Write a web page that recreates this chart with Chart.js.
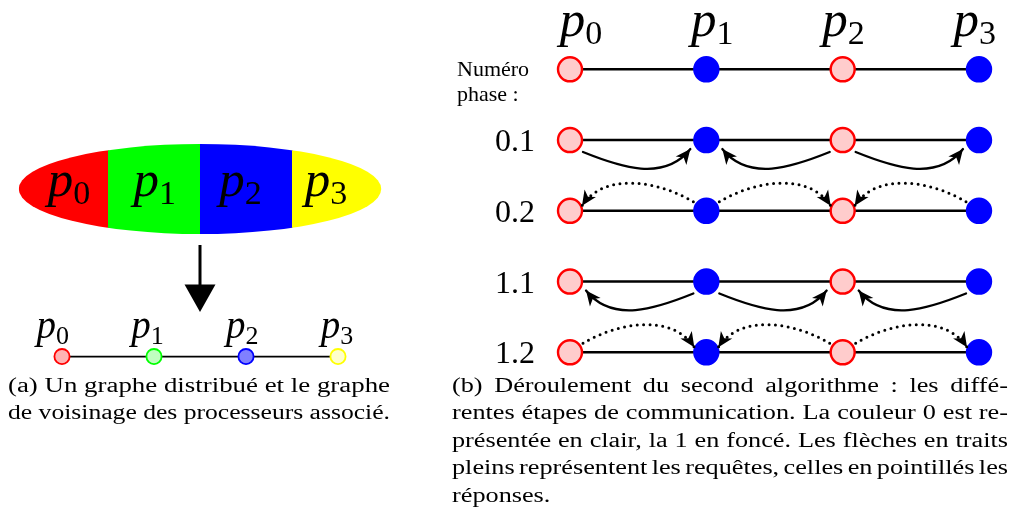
<!DOCTYPE html>
<html lang="fr">
<head>
<meta charset="utf-8">
<title>Graphe distribué et phases de communication</title>
<script src="https://cdn.jsdelivr.net/npm/chart.js@4.4.1/dist/chart.umd.min.js"></script>
<style>
  html, body { margin: 0; padding: 0; background: #fff; }
  #wrap { width: 1014px; height: 525px; }
</style>
</head>
<body>
<div id="wrap"><canvas id="fig" width="1014" height="525"></canvas></div>
<script>
// processeurs p0..p3 (indice affiché en indice)
const processors = ['0', '1', '2', '3'];
// couleur de chaque processeur dans l'algorithme (0 = clair, 1 = foncé)
const colouring = [0, 1, 0, 1];
// numéros de phase, une ligne chacun sous la ligne d'en-tête
const phases = ['0.1', '0.2', '1.1', '1.2'];
// messages envoyés à chaque phase : [émetteur, destinataire]
const phaseMessages = [
  [[0, 1], [2, 1], [2, 3]],
  [[1, 0], [1, 2], [3, 2]],
  [[1, 0], [1, 2], [3, 2]],
  [[0, 1], [2, 1], [2, 3]],
];
// requête = trait plein, réponse = pointillés
const phaseKinds = ['requete', 'reponse', 'requete', 'reponse'];

const captionA = [
  '(a) Un graphe distribué et le graphe',
  'de voisinage des processeurs associé.',
];
const captionB = [
  '(b) Déroulement du second algorithme : les diffé-',
  'rentes étapes de communication. La couleur 0 est re-',
  'présentée en clair, la 1 en foncé. Les flèches en traits',
  'pleins représentent les requêtes, celles en pointillés les',
  'réponses.',
];

// styles
const SERIF = '"Liberation Serif", "Times New Roman", serif';
const zoneColors = ['#ff0000', '#00ff00', '#0000ff', '#ffff00'];
const nodeFillA = ['#ffb3b3', '#bfffbf', '#8080ff', '#ffffcc'];
const lightFill = '#ffcccc';
const lightStroke = '#ff0000';
const darkFill = '#0000ff';

// value v0 at pixel p0, v1 at pixel p1, over a canvas side of `size`
function fit(v0, p0, v1, p1, size) {
  const unit = (p1 - p0) / (v1 - v0);
  return { min: v0 - p0 / unit, max: v0 + (size - p0) / unit };
}

const W = 1014, H = 525;
const rowsB = ['entete', ...phases];

const datasets = [];

// (b) noeuds de chaque ligne
const nodesB = [];
rowsB.forEach((_, r) => processors.forEach((_, k) => nodesB.push({ x: k, y: r })));
datasets.push({
  label: 'noeuds b',
  xAxisID: 'xb', yAxisID: 'yb', order: 0,
  data: nodesB,
  pointRadius: 12,
  pointBorderWidth: 2.4,
  pointBackgroundColor: nodesB.map(p => colouring[p.x] ? darkFill : lightFill),
  pointBorderColor: nodesB.map(p => colouring[p.x] ? darkFill : lightStroke),
  showLine: false,
});
// (b) arêtes de chaque ligne
rowsB.forEach((_, r) => {
  datasets.push({
    label: 'ligne ' + r,
    xAxisID: 'xb', yAxisID: 'yb', order: 2,
    data: [{ x: 0, y: r }, { x: processors.length - 1, y: r }],
    showLine: true, borderColor: '#000', borderWidth: 2.4, pointRadius: 0,
  });
});

// (a) graphe de voisinage
datasets.push({
  label: 'noeuds a',
  xAxisID: 'xa', yAxisID: 'ya', order: 0,
  data: processors.map((_, k) => ({ x: k, y: 1 })),
  pointRadius: 7.6,
  pointBorderWidth: 1.8,
  pointBackgroundColor: nodeFillA,
  pointBorderColor: zoneColors,
  showLine: false,
});
datasets.push({
  label: 'arete a',
  xAxisID: 'xa', yAxisID: 'ya', order: 2,
  data: [{ x: 0, y: 1 }, { x: processors.length - 1, y: 1 }],
  showLine: true, borderColor: '#000', borderWidth: 1.6, pointRadius: 0,
});

function drawP(ctx, cx, base, size, digit) {
  const sub = Math.round(size * 0.66);
  ctx.font = `italic ${size}px ${SERIF}`;
  const wp = ctx.measureText('p').width;
  ctx.font = `${sub}px ${SERIF}`;
  const wd = ctx.measureText(digit).width;
  const x0 = cx - (wp + wd) / 2;
  ctx.font = `italic ${size}px ${SERIF}`;
  ctx.fillText('p', x0, base);
  ctx.font = `${sub}px ${SERIF}`;
  ctx.fillText(digit, x0 + wp, base + size * 0.16);
}

function drawHead(ctx, tip, from, len, half) {
  const dx = tip[0] - from[0], dy = tip[1] - from[1];
  const n = Math.hypot(dx, dy);
  const ux = dx / n, uy = dy / n;
  const bx = tip[0] - ux * len, by = tip[1] - uy * len;
  ctx.beginPath();
  ctx.moveTo(tip[0], tip[1]);
  ctx.lineTo(bx - uy * half, by + ux * half);
  ctx.lineTo(tip[0] - ux * len * 0.72, tip[1] - uy * len * 0.72);
  ctx.lineTo(bx + uy * half, by - ux * half);
  ctx.closePath();
  ctx.fill();
}

function wordsWidth(ctx, words, sx) {
  return words.reduce((s, w) => s + ctx.measureText(w).width * sx, 0);
}

function drawWord(ctx, text, x, y, sx) {
  ctx.save();
  ctx.translate(x, y);
  ctx.scale(sx, 1);
  ctx.fillText(text, 0, 0);
  ctx.restore();
}

const diagram = {
  id: 'diagram',
  beforeDatasetsDraw(chart) {
    const ctx = chart.ctx;
    const xa = chart.scales.xa, ya = chart.scales.ya;
    const cy = ya.getPixelForValue(0);
    const rowA = ya.getPixelForValue(1);
    const left = xa.getPixelForValue(-0.47), right = xa.getPixelForValue(3.47);
    const cx = (left + right) / 2;

    // zone partagée entre les processeurs
    ctx.save();
    ctx.beginPath();
    ctx.ellipse(cx, cy, (right - left) / 2, 45, 0, 0, Math.PI * 2);
    ctx.clip();
    processors.forEach((_, k) => {
      const x0 = k === 0 ? left : xa.getPixelForValue(k - 0.5);
      const x1 = k === processors.length - 1 ? right : xa.getPixelForValue(k + 0.5);
      ctx.fillStyle = zoneColors[k];
      ctx.fillRect(x0, cy - 46, x1 - x0 + 0.6, 92);
    });
    ctx.restore();

    // flèche vers le graphe
    ctx.save();
    ctx.strokeStyle = '#000';
    ctx.fillStyle = '#000';
    ctx.lineWidth = 3;
    ctx.beginPath();
    ctx.moveTo(cx, cy + 56);
    ctx.lineTo(cx, rowA - 70);
    ctx.stroke();
    ctx.beginPath();
    ctx.moveTo(cx - 15.5, rowA - 72);
    ctx.lineTo(cx + 15.5, rowA - 72);
    ctx.lineTo(cx, rowA - 44.5);
    ctx.closePath();
    ctx.fill();

    ctx.textAlign = 'left';
    ctx.textBaseline = 'alphabetic';
    processors.forEach((d, k) => {
      drawP(ctx, xa.getPixelForValue(0.076 + k * 0.9315), cy + 7, 51, d);
      drawP(ctx, xa.getPixelForValue(-0.1 + k * 1.03), rowA - 19, 39, d);
    });
    ctx.restore();
  },
  afterDatasetsDraw(chart) {
    const ctx = chart.ctx;
    const xb = chart.scales.xb, yb = chart.scales.yb;
    ctx.save();
    ctx.fillStyle = '#000';
    ctx.strokeStyle = '#000';

    // messages de chaque phase
    phaseMessages.forEach((msgs, i) => {
      const y = yb.getPixelForValue(i + 1);
      const req = phaseKinds[i] === 'requete';
      msgs.forEach(([s, t]) => {
        const sx = xb.getPixelForValue(s), tx = xb.getPixelForValue(t);
        const d = Math.sign(tx - sx);
        const p = req
          ? [[sx + 13 * d, y + 12], [sx + 50 * d, y + 27], [tx - 42 * d, y + 42], [tx - 16 * d, y + 9]]
          : [[sx + 13 * d, y - 9], [sx + 46 * d, y - 29], [tx - 35 * d, y - 40], [tx - 12 * d, y - 5]];
        ctx.lineWidth = req ? 2.3 : 3;
        ctx.lineCap = 'round';
        ctx.setLineDash(req ? [] : [0, 6.4]);
        ctx.beginPath();
        ctx.moveTo(p[0][0], p[0][1]);
        ctx.bezierCurveTo(p[1][0], p[1][1], p[2][0], p[2][1], p[3][0], p[3][1]);
        ctx.stroke();
        ctx.setLineDash([]);
        drawHead(ctx, p[3], p[2], 15, 6.8);
      });
    });

    // étiquettes des processeurs et des phases
    ctx.textBaseline = 'alphabetic';
    ctx.textAlign = 'left';
    const top = yb.getPixelForValue(0);
    processors.forEach((d, k) => drawP(ctx, xb.getPixelForValue(0.08 + k * 0.963), top - 33, 51, d));
    ctx.font = `22px ${SERIF}`;
    ctx.fillText('Numéro', 457, top + 7);
    ctx.fillText('phase :', 457, top + 32);
    ctx.textAlign = 'right';
    ctx.font = `32px ${SERIF}`;
    phases.forEach((ph, i) => ctx.fillText(ph, 535, yb.getPixelForValue(i + 1) + 11));

    // légendes
    ctx.textAlign = 'left';
    ctx.font = `20px ${SERIF}`;
    const lead = 27.4, base0 = 392;
    let stretch = 0;
    captionA.forEach((line, i) => {
      const w = ctx.measureText(line).width;
      const sx = 382 / w;
      stretch += sx / captionA.length;
      drawWord(ctx, line, 199 - 191, base0 + i * lead, sx);
    });
    const bx0 = 452, bx1 = 1008;
    captionB.forEach((line, i) => {
      const words = line.split(' ');
      const y = base0 + i * lead;
      const last = i === captionB.length - 1;
      const space = ctx.measureText(' ').width * stretch;
      const gap = last ? space : (bx1 - bx0 - wordsWidth(ctx, words, stretch)) / (words.length - 1);
      let x = bx0;
      words.forEach(w => {
        drawWord(ctx, w, x, y, stretch);
        x += ctx.measureText(w).width * stretch + gap;
      });
    });
    ctx.restore();
  },
};

const fxb = fit(0, 570, 3, 979, W);
const fyb = fit(0, 69.3, 4, 352.3, H);
const fxa = fit(0, 62, 3, 338, W);
const fya = fit(0, 189, 1, 356.6, H);

function build() {
  new Chart(document.getElementById('fig').getContext('2d'), {
    type: 'scatter',
    data: { datasets },
    options: {
      responsive: false,
      animation: false,
      events: [],
      layout: { padding: 0, autoPadding: false },
      plugins: {
        legend: { display: false },
        tooltip: { enabled: false },
      },
      scales: {
        xa: { type: 'linear', axis: 'x', display: false, min: fxa.min, max: fxa.max },
        ya: { type: 'linear', axis: 'y', display: false, reverse: true, min: fya.min, max: fya.max },
        xb: { type: 'linear', axis: 'x', display: false, min: fxb.min, max: fxb.max },
        yb: { type: 'linear', axis: 'y', display: false, reverse: true, min: fyb.min, max: fyb.max },
      },
    },
    plugins: [diagram],
  });
}

Promise.all([
  document.fonts.load('20px "Liberation Serif"'),
  document.fonts.load('italic 20px "Liberation Serif"'),
]).catch(() => {}).then(build);
</script>
</body>
</html>
